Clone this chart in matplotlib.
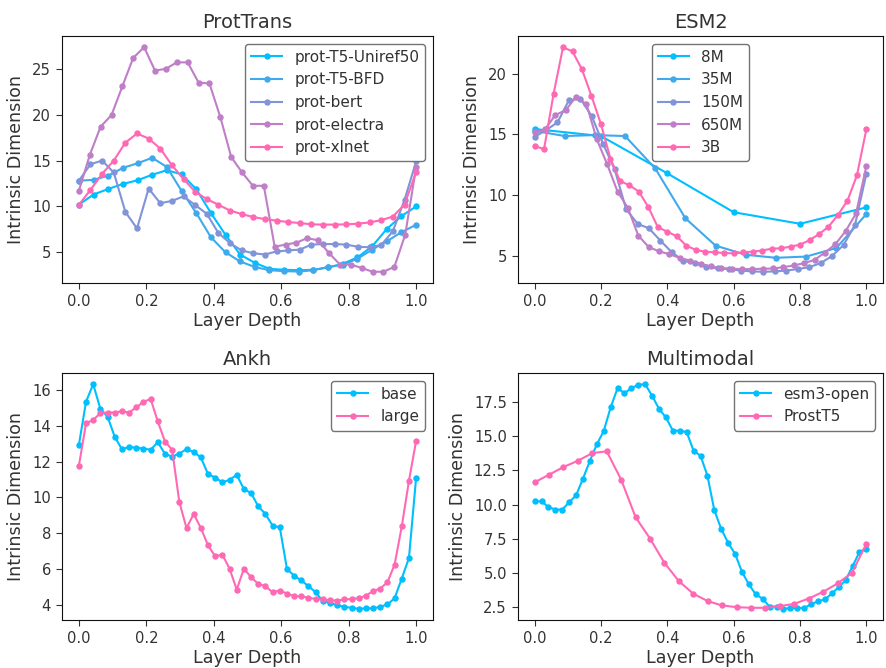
import numpy as np
import matplotlib
matplotlib.use("Agg")
import matplotlib.pyplot as plt

# ---- data ----
prot_t5_uniref50 = [10.2, 11.3, 11.9, 12.45, 12.85, 13.45, 13.95, 13.5, 11.9, 9.3, 6.9, 4.75,
                    3.85, 3.2, 3.1, 3.05, 3.1, 3.35, 3.75, 4.45, 5.65, 7.55, 8.95, 10.0]
prot_t5_bfd = [12.8, 12.9, 13.35, 14.2, 14.7, 15.3, 14.3, 11.7, 9.3, 6.65, 5.0, 4.0,
               3.4, 3.05, 2.95, 2.9, 3.05, 3.4, 3.65, 4.3, 5.3, 6.2, 7.2, 8.0]
prot_bert = [12.8, 14.6, 15.0, 13.7, 9.4, 7.6, 11.95, 10.35, 10.6, 11.1, 10.15, 9.2, 7.1, 6.0, 5.2,
             4.9, 4.76, 5.1, 5.2, 5.3, 5.84, 5.9, 5.9, 5.84, 5.6, 5.55, 5.8, 7.3, 10.7, 14.9]
prot_electra = [11.7, 15.6, 18.7, 19.95, 23.1, 26.2, 27.35, 24.8, 25.0, 25.7, 25.7, 23.5, 23.4,
                19.75, 15.4, 13.7, 12.25, 12.25, 5.6, 5.85, 6.05, 6.55, 6.3, 4.9, 3.67, 3.67,
                3.3, 2.88, 2.88, 3.42, 6.93, 14.3]
prot_xlnet = [10.18, 11.8, 13.55, 15.0, 16.95, 17.95, 17.4, 16.3, 14.5, 13.0, 11.6, 10.8, 10.18,
              9.55, 9.17, 8.84, 8.62, 8.45, 8.3, 8.19, 8.05, 8.02, 8.02, 8.05, 8.12, 8.26, 8.5,
              8.9, 10.2, 13.75]

esm2_8m = [15.45, 14.87, 11.8, 8.6, 7.65, 9.0]
esm2_35m = [15.3, 14.87, 14.95, 14.87, 12.2, 8.1, 5.85, 5.1, 4.85, 4.95, 5.65, 8.45]
esm2_150m = [14.8, 15.36, 15.99, 17.82, 17.95, 16.5, 14.2, 12.12, 8.85, 7.65, 7.27, 6.26, 5.3,
             4.62, 4.4, 4.1, 3.98, 3.92, 3.8, 3.73, 3.7, 3.73, 3.8, 3.92, 4.08, 4.41, 5.0, 5.9,
             7.55, 11.77]
esm2_650m = [15.17, 15.42, 16.6, 17.0, 18.1, 17.5, 14.6, 12.55, 10.3, 8.95, 6.68, 5.74, 5.38,
             5.15, 4.84, 4.62, 4.35, 4.14, 4.0, 3.95, 3.92, 3.92, 3.95, 3.97, 4.08, 4.22, 4.41,
             4.68, 5.28, 5.96, 7.05, 8.5, 12.42]
esm2_3b = [14.05, 13.8, 18.33, 22.18, 21.83, 20.35, 18.17, 15.85, 13.02, 11.17, 10.82, 10.3,
           9.02, 7.37, 7.0, 6.62, 5.85, 5.5, 5.35, 5.3, 5.25, 5.21, 5.3, 5.36, 5.45, 5.6, 5.63,
           5.77, 5.93, 6.3, 6.8, 7.4, 8.38, 9.55, 11.63, 15.45]

ankh_base = [12.92, 15.35, 16.32, 14.94, 14.51, 13.38, 12.69, 12.82, 12.77, 12.73, 12.66, 13.08,
             12.43, 12.28, 12.45, 12.69, 12.54, 12.23, 11.3, 11.11, 10.84, 10.98, 11.26, 10.46,
             10.24, 9.5, 9.07, 8.42, 8.33, 6.0, 5.63, 5.36, 5.04, 4.7, 4.2, 4.11, 3.98, 3.89,
             3.83, 3.78, 3.8, 3.81, 3.89, 4.02, 4.37, 5.47, 6.62, 11.11]
ankh_large = [11.76, 14.14, 14.33, 14.7, 14.74, 14.74, 14.81, 14.74, 15.03, 15.33, 15.5, 14.24,
              13.12, 12.66, 9.74, 8.29, 9.07, 8.29, 7.32, 6.71, 6.8, 6.02, 4.85, 6.02, 5.54,
              5.17, 5.04, 4.7, 4.8, 4.63, 4.48, 4.48, 4.39, 4.33, 4.3, 4.26, 4.24, 4.3, 4.33,
              4.37, 4.52, 4.76, 4.91, 5.26, 6.25, 8.38, 10.93, 13.16]

esm3_open = [10.24, 10.24, 9.83, 9.64, 9.64, 10.17, 10.68, 11.9, 13.21, 14.41, 15.38, 17.11,
             18.52, 18.16, 18.52, 18.77, 18.81, 17.96, 17.01, 16.38, 15.41, 15.41, 15.31, 13.94,
             13.58, 12.12, 9.59, 8.22, 7.2, 6.4, 5.08, 4.16, 3.43, 3.11, 2.53, 2.53, 2.38, 2.43,
             2.43, 2.45, 2.7, 2.94, 3.06, 3.5, 3.96, 4.47, 5.5, 6.54, 6.79]
prost_t5 = [11.63, 12.19, 12.75, 13.21, 13.77, 13.9, 11.83, 9.08, 7.52, 5.74, 4.4, 3.48, 2.94,
            2.62, 2.5, 2.45, 2.45, 2.57, 2.74, 3.13, 3.62, 4.23, 5.01, 7.15]

panels = [
    ("ProtTrans", ["prot-T5-Uniref50", "prot-T5-BFD", "prot-bert", "prot-electra", "prot-xlnet"],
     [prot_t5_uniref50, prot_t5_bfd, prot_bert, prot_electra, prot_xlnet], "upper right"),
    ("ESM2", ["8M", "35M", "150M", "650M", "3B"],
     [esm2_8m, esm2_35m, esm2_150m, esm2_650m, esm2_3b], "upper center"),
    ("Ankh", ["base", "large"], [ankh_base, ankh_large], "upper right"),
    ("Multimodal", ["esm3-open", "ProstT5"], [esm3_open, prost_t5], "upper right"),
]

colors5 = ['#00BFFF', '#40A9EC', '#7F94D9', '#BF7EC7', '#FF69B4']
colors2 = ['#00BFFF', '#FF69B4']

txt = '#333333'
plt.rcParams.update({
    'font.family': 'DejaVu Sans',
    'text.color': txt,
    'axes.labelcolor': txt,
    'xtick.color': txt,
    'ytick.color': txt,
    'axes.edgecolor': '#111111',
    'xtick.labelsize': 10.6,
    'ytick.labelsize': 10.6,
    'xtick.major.size': 4.5,
    'ytick.major.size': 4.5,
})

fig = plt.figure(figsize=(8.86, 6.68), dpi=100)
W, H = 886.0, 668.0
rects = [
    (62 / W, (H - 283) / H, 371 / W, 247 / H),
    (518 / W, (H - 283) / H, 365 / W, 247 / H),
    (62 / W, (H - 620) / H, 371 / W, 247 / H),
    (518 / W, (H - 620) / H, 365 / W, 247 / H),
]

for rect, (title, names, series, loc) in zip(rects, panels):
    ax = fig.add_axes(rect)
    cols = colors5 if len(series) == 5 else colors2
    for name, vals, c in zip(names, series, cols):
        x = np.linspace(0, 1, len(vals))
        ax.plot(x, vals, marker='o', markersize=3.6, linewidth=1.5, color=c, label=name)
    ax.set_title(title, fontsize=14, color=txt, pad=6)
    ax.set_xlabel("Layer Depth", fontsize=12.6, labelpad=2)
    ax.set_ylabel("Intrinsic Dimension", fontsize=12.6, labelpad=5)
    ax.set_xticks([0.0, 0.2, 0.4, 0.6, 0.8, 1.0])
    leg = ax.legend(loc=loc, fontsize=11, framealpha=1.0, edgecolor='0.45')
    leg.get_frame().set_linewidth(1.0)

fig.savefig("out.png", dpi=100)
